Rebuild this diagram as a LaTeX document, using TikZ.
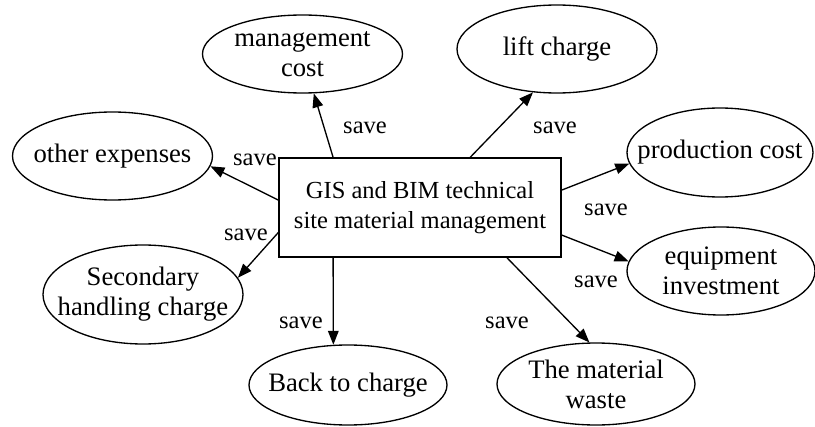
\documentclass[tikz,border=0pt]{standalone}
\usepackage{fontspec}
\setmainfont{Liberation Serif}
\usetikzlibrary{shapes.geometric,arrows.meta}

\newcommand{\nw}[1]{\makebox[0pt]{#1}}

\tikzstyle{cost} = [ellipse, draw=black, line width=1pt, inner sep=0pt, minimum width=150pt, minimum height=66pt, align=center, font=\fontsize{20}{22.5}\selectfont]
\tikzstyle{centre} = [rectangle, draw=black, line width=1pt, minimum width=211.5pt, minimum height=74.25pt, align=center]
\tikzstyle{saving} = [inner sep=0pt]
\tikzstyle{arrow} = [line width=1pt, -{Triangle[length=10.5pt, width=8pt]}]

\begin{document}
\begin{tikzpicture}[x=0.75pt, y=0.75pt, font=\fontsize{18.4}{22.5}\selectfont]
\useasboundingbox (0,0) rectangle (815,426);

\node (gis) [centre] at (420,218.5) {GIS and BIM technical\\site material management};

\node (mc) [cost, minimum height=58.5pt] at (302.5,372) {\nw{management}\\\nw{cost}};
\node (lift) [cost] at (557,377) {\nw{lift charge}};
\node (other) [cost] at (112.5,270) {\nw{other expenses}};
\node (prod) [cost, minimum width=139.5pt, minimum height=66.75pt] at (720,273.5) {\nw{production cost}};
\node (equip) [cost, minimum width=141pt] at (721,155) {\nw{equipment}\\\nw{investment}};
\node (sec) [cost, minimum height=74.25pt] at (143,131.5) {\nw{Secondary}\\\nw{handling charge}};
\node (back) [cost, minimum width=148.5pt, minimum height=60pt] at (348,41) {\nw{Back to charge}};
\node (waste) [cost, minimum width=148.5pt, minimum height=61.5pt] at (596,42) {\nw{The material}\\\nw{waste}};

% labels
\node (smc) [saving] at (365,298) {save};
\node (sother) [saving] at (255,266) {save};
\node (slift) [saving] at (555,298) {save};
\node (sprod) [saving] at (606,216) {save};
\node (sequip) [saving] at (596,144) {save};
\node (swaste) [saving] at (507,103) {save};
\node (ssec) [saving] at (246,191) {save};
\node (sback) [saving] at (301,103) {save};

\draw [arrow] (gis.150.9) -- (mc.-74.9);
\draw [arrow] (gis.45.9) -- (lift.-119.6);
\draw [arrow] (gis.177) -- (other.-6.2);
\draw [arrow] (gis.7.1) -- (prod.-173.6);
\draw [arrow] (gis.-11.8) -- (equip.174.4);
\draw [arrow] (gis.-30.8) -- (waste.99.7);
\draw [arrow] (gis.-150.4) -- (back.110.1);
\draw [arrow] (gis.190.3) -- (sec.10.2);

\end{tikzpicture}
\end{document}
